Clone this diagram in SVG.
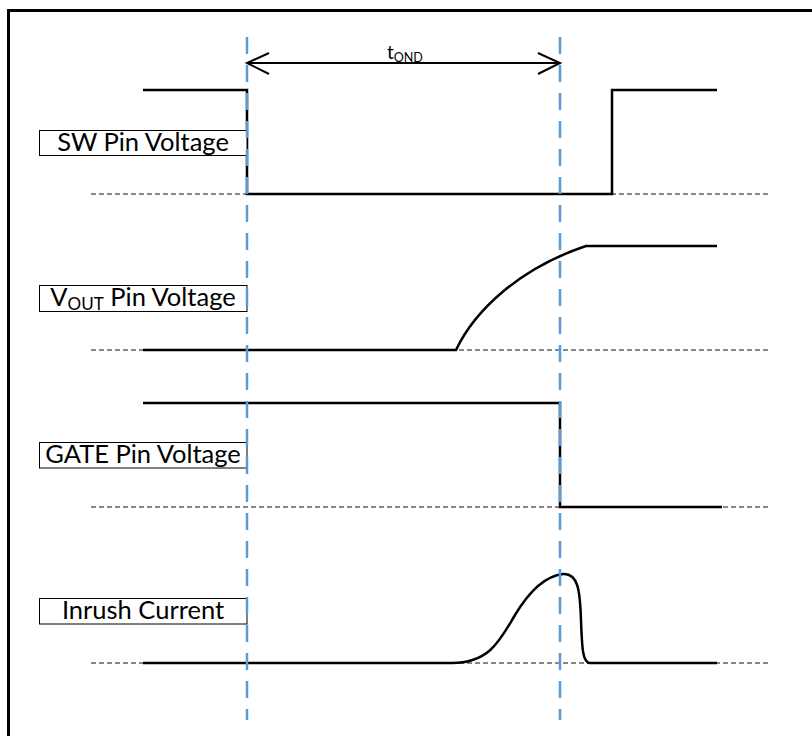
<svg xmlns="http://www.w3.org/2000/svg" width="812" height="736" viewBox="0 0 812 736">
<style>
.sig{fill:none;stroke:#000;stroke-width:2.5;stroke-linejoin:miter}
.base{fill:none;stroke:#111;stroke-width:1;stroke-dasharray:5 3}
.box{fill:#fff;stroke:#000;stroke-width:1}
.lbl{font-family:Lato,"Open Sans",sans-serif;font-size:25.5px;fill:#000;text-anchor:middle}
.mark{fill:none;stroke:#5B9BD5;stroke-width:2.5;stroke-dasharray:17 11}
.dim{fill:none;stroke:#000;stroke-width:2}
</style>
<rect x="8.5" y="10.5" width="820" height="740" fill="#fff" stroke="#000" stroke-width="3"/>
<g id="sw">
<line class="base" x1="91" y1="194" x2="768" y2="194"/>
<path class="sig" d="M143,90 H247 V194 H612 V90 H717"/>
<rect class="box" x="39.5" y="130.5" width="207.5" height="25"/>
<text class="lbl" x="143" y="151">SW Pin Voltage</text>
</g>
<g id="vout">
<line class="base" x1="91" y1="350" x2="768" y2="350"/>
<path class="sig" d="M143,350 H456 C475,310 520,268 586,246 H717"/>
<rect class="box" x="39.5" y="285.5" width="207.5" height="26"/>
<text class="lbl" x="143" y="306">V<tspan font-size="17" dy="4">OUT</tspan><tspan dy="-4"> Pin Voltage</tspan></text>
</g>
<g id="gate">
<line class="base" x1="91" y1="507" x2="768" y2="507"/>
<path class="sig" d="M143,403 H560 V507 H722"/>
<rect class="box" x="39.5" y="442.5" width="207.5" height="25.5"/>
<text class="lbl" x="143" y="463">GATE Pin Voltage</text>
</g>
<g id="inrush">
<line class="base" x1="91" y1="663" x2="768" y2="663"/>
<path class="sig" d="M143,663 H452 C490,663 500,640 515,615 C530,590 545,576 563,574 C578,573 580,590 581,620 C582,650 583,663 590,663 H717"/>
<rect class="box" x="39.5" y="598.5" width="207.5" height="25.5"/>
<text class="lbl" x="143" y="619">Inrush Current</text>
</g>
<g id="connectors">
<line class="mark" x1="247" y1="37" x2="247" y2="720"/>
<line class="mark" x1="560" y1="37" x2="560" y2="720"/>
<path class="dim" d="M247,63 H560 M269,53 L247,63 L269,74 M538,53 L560,63 L538,74"/>
</g>
<g id="tond">
<text font-family="Lato,'Open Sans',sans-serif" font-size="19" x="387" y="59">t<tspan font-size="12.5" dy="3">OND</tspan></text>
</g>
</svg>
